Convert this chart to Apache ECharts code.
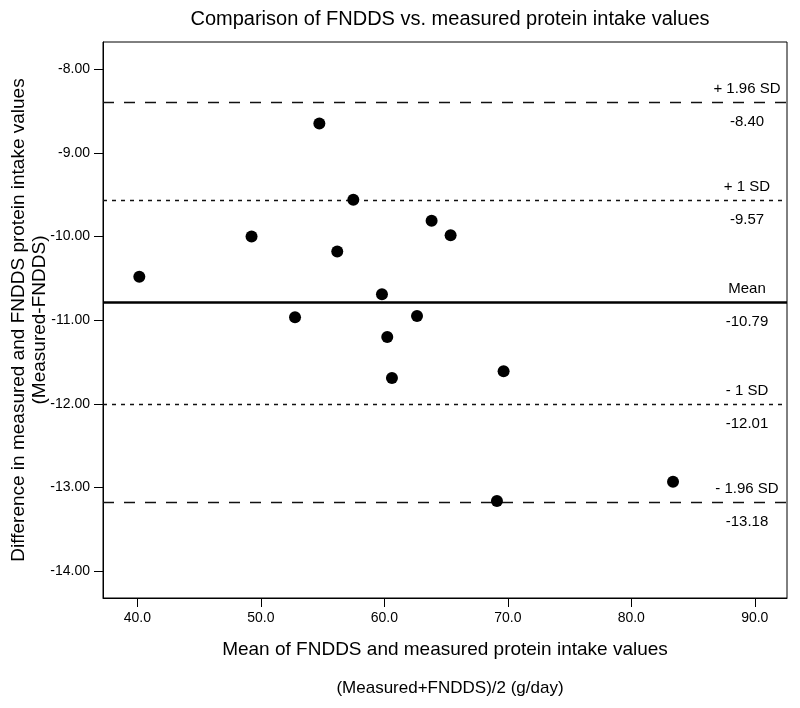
<!DOCTYPE html>
<html>
<head>
<meta charset="utf-8">
<script src="https://cdn.jsdelivr.net/npm/echarts@6/dist/echarts.min.js"></script>
<style>html,body{margin:0;padding:0;background:#fff}#main{width:800px;height:708px}</style>
</head>
<body>
<div id="main"></div>
<script>
const chartTitle = 'Comparison of FNDDS vs. measured protein intake values';
const xAxisTitle = 'Mean of FNDDS and measured protein intake values';
const xAxisSubtitle = '(Measured+FNDDS)/2 (g/day)';
const yAxisTitle = 'Difference in measured and FNDDS protein intake values\n(Measured-FNDDS)';

const meanValues = [40.16, 49.25, 54.74, 52.77, 57.49, 56.19, 59.81, 60.24, 60.62, 62.65, 63.83, 65.37, 69.66, 69.12, 83.38];
const diffValues = [-10.48, -10.00, -8.65, -10.965, -9.56, -10.18, -10.69, -11.20, -11.69, -10.95, -9.81, -9.985, -11.61, -13.16, -12.93];

const limitNames = ['+ 1.96 SD', '+ 1 SD', 'Mean', '- 1 SD', '- 1.96 SD'];
const limitValues = [-8.40, -9.57, -10.79, -12.01, -13.18];
const limitKinds = ['long', 'short', 'solid', 'short', 'long'];

const xTickValues = [40, 50, 60, 70, 80, 90];
const yTickValues = [-8, -9, -10, -11, -12, -13, -14];

const FONT = '"Liberation Sans", Arial, sans-serif';

function styleFor(kind) {
  if (kind === 'solid') return { type: 'solid', width: 2.5, color: '#000' };
  if (kind === 'long') return { type: [11, 10], width: 1.3, color: '#111' };
  return { type: [4, 5], width: 1.3, color: '#111' };
}

const nameLines = limitValues.map((v, i) => ({
  yAxis: v,
  lineStyle: styleFor(limitKinds[i]),
  label: { formatter: limitNames[i], position: 'insideEndTop', distance: [40, 6] }
}));
const valueLines = limitValues.map((v, i) => ({
  yAxis: v,
  lineStyle: { color: 'rgba(0,0,0,0)', width: 1, type: 'solid' },
  label: { formatter: v.toFixed(2), position: 'insideEndBottom', distance: [40, 12] }
}));

const chart = echarts.init(document.getElementById('main'), null, { renderer: 'canvas' });
chart.setOption({
  animation: false,
  backgroundColor: '#fff',
  textStyle: { fontFamily: FONT },
  title: [
    { text: chartTitle, left: 445, top: 4, textAlign: 'center',
      textStyle: { fontFamily: FONT, fontSize: 20, fontWeight: 'normal', color: '#000' } },
    { text: xAxisSubtitle, left: 445, top: 675, textAlign: 'center',
      textStyle: { fontFamily: FONT, fontSize: 17, fontWeight: 'normal', color: '#000' } }
  ],
  grid: { left: 103, right: 13, top: 42, bottom: 110, containLabel: false, outerBoundsMode: 'none',
          show: true, borderColor: '#000', borderWidth: 1, backgroundColor: 'transparent' },
  xAxis: {
    type: 'value', min: 37.22, max: 92.61,
    name: xAxisTitle, nameLocation: 'middle', nameGap: 42, nameMoveOverlap: false,
    nameTextStyle: { fontFamily: FONT, fontSize: 19, color: '#000' },
    axisLine: { show: true, onZero: false, lineStyle: { color: '#000', width: 1 } },
    axisTick: { show: true, length: 9, lineStyle: { color: '#000' }, customValues: xTickValues },
    axisLabel: { color: '#000', fontSize: 14, fontFamily: FONT, margin: 13, customValues: xTickValues,
                 formatter: v => v.toFixed(1) },
    splitLine: { show: false }
  },
  yAxis: {
    type: 'value', min: -14.32, max: -7.675,
    name: yAxisTitle, nameLocation: 'middle', nameGap: 53, nameRotate: 90, nameMoveOverlap: false,
    nameTextStyle: { fontFamily: FONT, fontSize: 19, color: '#000', lineHeight: 21 },
    axisLine: { show: true, onZero: false, lineStyle: { color: '#000', width: 1 } },
    axisTick: { show: true, length: 9, lineStyle: { color: '#000' }, customValues: yTickValues },
    axisLabel: { color: '#000', fontSize: 14, fontFamily: FONT, margin: 13, customValues: yTickValues,
                 formatter: v => v.toFixed(2) },
    splitLine: { show: false }
  },
  series: [
    {
      type: 'scatter',
      data: meanValues.map((x, i) => [x, diffValues[i]]),
      symbol: 'circle', symbolSize: 12,
      itemStyle: { color: '#000', opacity: 1 },
      z: 5,
      markLine: {
        silent: true, symbol: 'none', animation: false,
        label: { show: true, align: 'center', color: '#000', fontSize: 15, fontFamily: FONT },
        data: nameLines.concat(valueLines)
      }
    }
  ]
});
</script>
</body>
</html>
